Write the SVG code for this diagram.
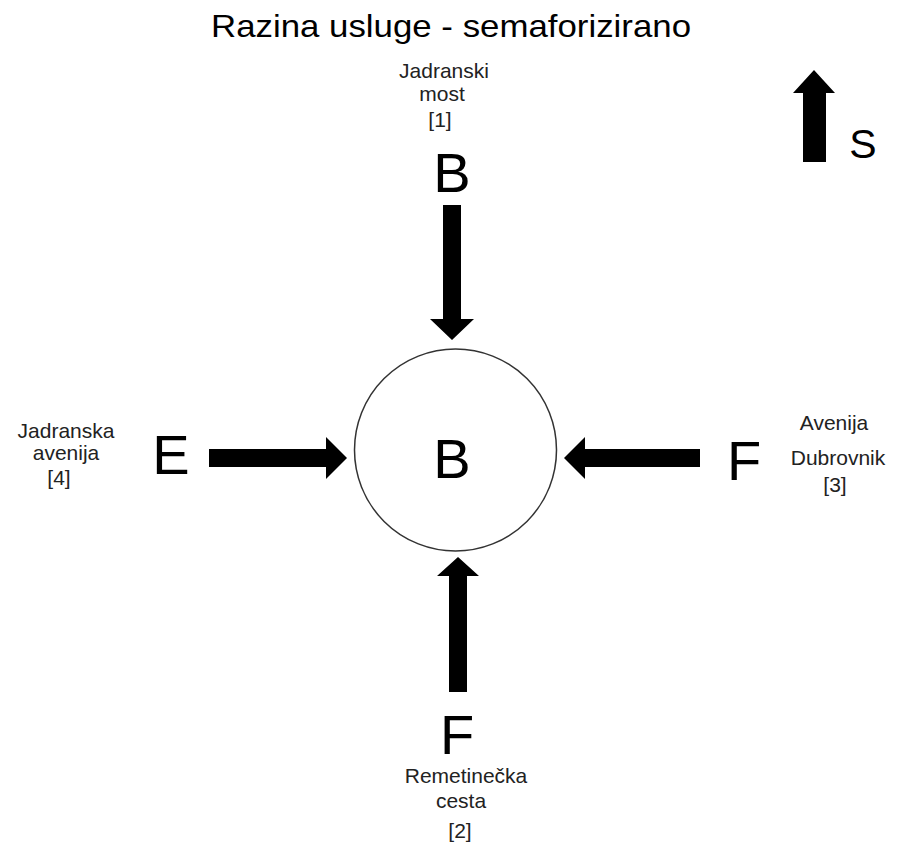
<svg xmlns="http://www.w3.org/2000/svg" width="898" height="845" viewBox="0 0 898 845">
<style>
text{font-family:"Liberation Sans",Arial,sans-serif;}
.title{font-size:32px;fill:#000;}
.lbl{font-size:21px;fill:#222;text-anchor:middle;}
.los{font-size:56px;fill:#000;text-anchor:middle;}
.arr{fill:#000;}
</style>
<rect width="898" height="845" fill="#fff"/>
<text class="title" x="211" y="37" textLength="480" lengthAdjust="spacingAndGlyphs">Razina usluge - semaforizirano</text>

<g id="north">
<polygon class="arr" points="803,162 803,93 793,93 814,70 835,93 826,93 826,162"/>
<text x="863" y="158" style="font-size:41px;text-anchor:middle">S</text>
</g>

<g id="intersection">
<circle cx="455.5" cy="450" r="101" fill="#fff" stroke="#333" stroke-width="1.5"/>
<text class="los" x="452" y="478">B</text>
</g>

<g id="approach-1">
<text class="lbl" x="444" y="78">Jadranski</text>
<text class="lbl" x="442" y="101">most</text>
<text class="lbl" x="440" y="127">[1]</text>
<text class="los" x="452" y="192">B</text>
</g>

<g id="approach-2">
<text class="los" x="457" y="754">F</text>
<text class="lbl" x="466" y="783">Remetinečka</text>
<text class="lbl" x="461" y="808">cesta</text>
<text class="lbl" x="460" y="838">[2]</text>
</g>

<g id="approach-3">
<text class="los" x="744" y="480">F</text>
<text class="lbl" x="834" y="430">Avenija</text>
<text class="lbl" x="838" y="465">Dubrovnik</text>
<text class="lbl" x="835" y="492">[3]</text>
</g>

<g id="approach-4">
<text class="los" x="171" y="474">E</text>
<text class="lbl" x="66" y="438">Jadranska</text>
<text class="lbl" x="66" y="460">avenija</text>
<text class="lbl" x="59" y="485">[4]</text>
</g>

<g id="connectors">
<polygon class="arr" points="443,205 461,205 461,319 474,319 452,340 430,319 443,319"/>
<polygon class="arr" points="449,692 467,692 467,576 479,576 458,557 437,576 449,576"/>
<polygon class="arr" points="209,449 326,449 326,437 347,458 326,479 326,467 209,467"/>
<polygon class="arr" points="700,449 585,449 585,437 564,458 585,479 585,467 700,467"/>
</g>
</svg>
